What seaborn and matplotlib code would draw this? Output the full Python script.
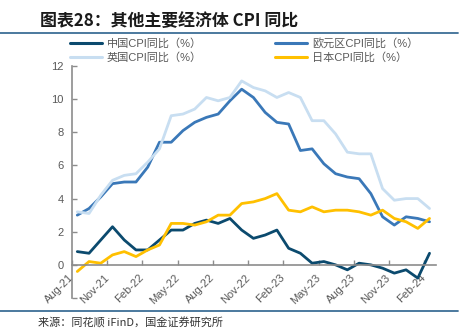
import numpy as np
import pandas as pd
import matplotlib
matplotlib.use("Agg")
import matplotlib.pyplot as plt
from matplotlib.lines import Line2D
import seaborn as sns

months = ["Aug-21", "Sep-21", "Oct-21", "Nov-21", "Dec-21", "Jan-22", "Feb-22", "Mar-22",
          "Apr-22", "May-22", "Jun-22", "Jul-22", "Aug-22", "Sep-22", "Oct-22", "Nov-22",
          "Dec-22", "Jan-23", "Feb-23", "Mar-23", "Apr-23", "May-23", "Jun-23", "Jul-23",
          "Aug-23", "Sep-23", "Oct-23", "Nov-23", "Dec-23", "Jan-24", "Feb-24"]
china = [0.8, 0.7, 1.5, 2.3, 1.5, 0.9, 0.9, 1.5, 2.1, 2.1, 2.5, 2.7, 2.5, 2.8, 2.1, 1.6,
         1.8, 2.1, 1.0, 0.7, 0.1, 0.2, 0.0, -0.3, 0.1, 0.0, -0.2, -0.5, -0.3, -0.8, 0.7]
euro = [3.0, 3.4, 4.1, 4.9, 5.0, 5.0, 5.9, 7.4, 7.4, 8.1, 8.6, 8.9, 9.1, 9.9, 10.6, 10.1,
        9.2, 8.6, 8.5, 6.9, 7.0, 6.1, 5.5, 5.3, 5.2, 4.3, 2.9, 2.4, 2.9, 2.8, 2.6]
uk = [3.2, 3.1, 4.2, 5.1, 5.4, 5.5, 6.2, 7.0, 9.0, 9.1, 9.4, 10.1, 9.9, 10.1, 11.1, 10.7,
      10.5, 10.1, 10.4, 10.1, 8.7, 8.7, 7.9, 6.8, 6.7, 6.7, 4.6, 3.9, 4.0, 4.0, 3.4]
japan = [-0.4, 0.2, 0.1, 0.6, 0.8, 0.5, 0.9, 1.2, 2.5, 2.5, 2.4, 2.6, 3.0, 3.0, 3.7, 3.8,
         4.0, 4.3, 3.3, 3.2, 3.5, 3.2, 3.3, 3.3, 3.2, 3.0, 3.3, 2.8, 2.6, 2.2, 2.8]
series_names = ["中国CPI同比（%）", "英国CPI同比（%）", "欧元区CPI同比（%）", "日本CPI同比（%）"]
y_ticks = [-2, 0, 2, 4, 6, 8, 10, 12]
y_tick_labels = ["", "0", "2", "4", "6", "8", "10", "12"]

colors = {"中国CPI同比（%）": "#0b4a6e",
          "欧元区CPI同比（%）": "#3a78b8",
          "英国CPI同比（%）": "#c8def1",
          "日本CPI同比（%）": "#ffc000"}

sns.set_style("ticks")
plt.rcParams["font.family"] = ["Liberation Sans", "Noto Sans CJK SC", "DejaVu Sans"]

fig = plt.figure(figsize=(4.72, 3.36), dpi=100)
ax = fig.add_axes([72 / 472, 1 - 298 / 336, (436 - 72) / 472, (298 - 66) / 336])

pos = np.arange(len(months))
df = pd.DataFrame({"pos": pos + 0.45,
                   series_names[0]: china,
                   series_names[2]: euro,
                   series_names[1]: uk,
                   series_names[3]: japan})
long = df.melt(id_vars="pos", var_name="series", value_name="value")
hue_order = [series_names[0], series_names[2], series_names[1], series_names[3]]
sns.lineplot(data=long, x="pos", y="value", hue="series", hue_order=hue_order,
             palette=colors, linewidth=2.0, ax=ax, legend=False)

ax.set_xlim(0, 31)
ax.set_ylim(-2, 12)
ax.set_xlabel("")
ax.set_ylabel("")
for s in ["top", "right"]:
    ax.spines[s].set_visible(False)
ax.spines["bottom"].set_position(("data", 0))
for s in ["left", "bottom"]:
    ax.spines[s].set_color("#8c8c8c")
    ax.spines[s].set_linewidth(1.2)
ax.tick_params(axis="both", direction="in", length=3.5, width=1, color="#8c8c8c",
               labelsize=8, labelcolor="#595959")
ax.tick_params(axis="x", pad=8)
ax.tick_params(axis="y", pad=6)
ax.set_yticks(y_ticks)
ax.set_yticklabels(y_tick_labels)
ax.set_xticks(pos[::3])
ax.set_xticklabels(months[::3])
plt.setp(ax.get_xticklabels(), rotation=45, ha="right", va="center",
         rotation_mode="anchor")

handles = [Line2D([], [], color=colors[n], lw=2.2) for n in series_names]
fig.legend(handles, series_names, ncol=2, loc="center left",
           bbox_to_anchor=(70 / 472, 1 - 50.5 / 336), frameon=False,
           fontsize=8, labelcolor="#595959", handlelength=2.9, handletextpad=0.4,
           columnspacing=6.6, labelspacing=0.35, borderaxespad=0, borderpad=0)

fig.text(40 / 472, 1 - 21 / 336, "图表28：其他主要经济体 CPI 同比",
         fontsize=12.2, fontweight="bold", va="center", ha="left",
         family=["Noto Sans CJK SC", "DejaVu Sans"], color="#1a1a1a")
fig.add_artist(Line2D([0, 458 / 472], [1 - 33 / 336] * 2, color="#3d6e96", lw=1.3))
fig.add_artist(Line2D([0, 458 / 472], [1 - 311 / 336] * 2, color="#3d6e96", lw=1.3))
fig.text(38 / 472, 1 - 323 / 336, "来源：同花顺 iFinD，国金证券研究所",
         fontsize=8, va="center", ha="left",
         family=["Noto Sans CJK SC", "DejaVu Sans"], color="#333333")

fig.savefig("out.png", dpi=100, facecolor="white")
